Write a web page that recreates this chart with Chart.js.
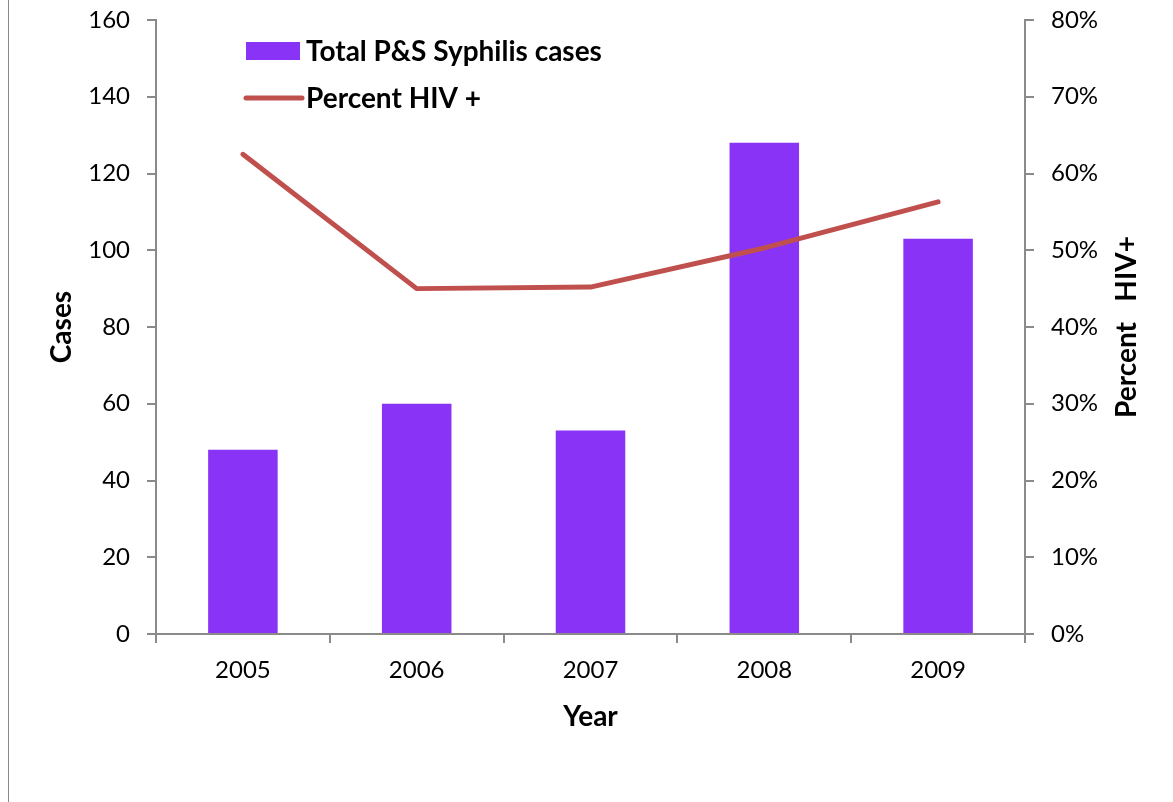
<!DOCTYPE html>
<html>
<head>
<meta charset="utf-8">
<script src="https://cdn.jsdelivr.net/npm/chart.js@4.4.1/dist/chart.umd.min.js"></script>
<style>
  html, body { margin: 0; padding: 0; background: #ffffff; }
  #wrap { position: relative; width: 1173px; height: 802px; }
  #frame { position: absolute; left: 8px; top: 0; width: 0; height: 802px; border-left: 1.5px solid #8a8a8a; }
  canvas { position: absolute; left: 0; top: 0; }
</style>
</head>
<body>
<div id="wrap">
  <div id="frame"></div>
  <canvas id="c" width="1173" height="802"></canvas>
</div>
<script>
// Annual primary & secondary syphilis cases and share that were HIV positive
const years = ['2005', '2006', '2007', '2008', '2009'];
const totalCases = [48, 60, 53, 128, 103];
const percentHIV = [62.5, 45.0, 45.2, 50.3, 56.3];
const casesTicks = [0, 20, 40, 60, 80, 100, 120, 140, 160];
const percentTicks = [0, 10, 20, 30, 40, 50, 60, 70, 80];

const FONT = 'Lato, "Open Sans", "DejaVu Sans", sans-serif';
const AXIS = '#8a8a8a';
const BAR = '#8833f5';
const LINE = '#c0504d';

// Legend drawn inside the plot area, upper left
const innerLegend = {
  id: 'innerLegend',
  afterDraw(chart) {
    const { ctx, chartArea } = chart;
    const x0 = chartArea.left;
    const y0 = chartArea.top;
    const barSet = chart.data.datasets.find(d => d.type === 'bar');
    const lineSet = chart.data.datasets.find(d => d.type === 'line');
    ctx.save();
    ctx.font = 'bold 28px ' + FONT;
    ctx.textBaseline = 'middle';
    ctx.textAlign = 'left';
    // bar entry
    ctx.fillStyle = BAR;
    ctx.fillRect(x0 + 90, y0 + 22, 54, 18);
    ctx.fillStyle = '#000000';
    ctx.fillText(barSet.label, x0 + 150, y0 + 32);
    // line entry
    ctx.strokeStyle = LINE;
    ctx.lineWidth = 5;
    ctx.lineCap = 'round';
    ctx.beginPath();
    ctx.moveTo(x0 + 90, y0 + 78);
    ctx.lineTo(x0 + 146, y0 + 78);
    ctx.stroke();
    ctx.fillText(lineSet.label, x0 + 150, y0 + 79);
    ctx.restore();
  }
};

// Right axis title, rotated to read bottom-to-top
const rightTitle = {
  id: 'rightTitle',
  afterDraw(chart) {
    const { ctx, chartArea } = chart;
    ctx.save();
    ctx.font = 'bold 28px ' + FONT;
    ctx.fillStyle = '#000000';
    ctx.textAlign = 'center';
    ctx.textBaseline = 'middle';
    ctx.translate(1127, (chartArea.top + chartArea.bottom) / 2);
    ctx.rotate(-Math.PI / 2);
    ctx.fillText('Percent   HIV+', 0, 0);
    ctx.restore();
  }
};

// Fixed axis box sizes so the plot area sits where intended
function fixVertical(width) {
  return function (scale) {
    scale.width = width;
    scale.paddingTop = 0;
    scale.paddingBottom = 0;
  };
}

new Chart(document.getElementById('c'), {
  data: {
    labels: years,
    datasets: [
      {
        type: 'line',
        label: 'Percent HIV +',
        data: percentHIV,
        yAxisID: 'y1',
        borderColor: LINE,
        borderWidth: 5,
        borderCapStyle: 'round',
        borderJoinStyle: 'round',
        pointRadius: 0,
        tension: 0,
        order: 0
      },
      {
        type: 'bar',
        label: 'Total P&S Syphilis cases',
        data: totalCases,
        yAxisID: 'y',
        backgroundColor: BAR,
        barPercentage: 0.4,
        categoryPercentage: 1.0,
        order: 1
      }
    ]
  },
  options: {
    responsive: false,
    animation: false,
    layout: { padding: { top: 20, left: 0, right: 0, bottom: 0 } },
    plugins: { legend: { display: false }, tooltip: { enabled: false } },
    scales: {
      x: {
        type: 'category',
        offset: true,
        grid: { display: true, drawOnChartArea: false, offset: true, tickLength: 9, color: AXIS, lineWidth: 2 },
        border: { display: true, color: AXIS, width: 2 },
        ticks: { color: '#000000', font: { family: FONT, size: 24, lineHeight: 1.2 }, padding: 13, maxRotation: 0 },
        title: { display: true, text: 'Year', color: '#000000', font: { family: FONT, size: 28, weight: 'bold', lineHeight: 1.2 }, padding: { top: 0, bottom: 68 } },
        afterFit(scale) { scale.height = 168; scale.paddingLeft = 0; scale.paddingRight = 0; }
      },
      y: {
        position: 'left',
        min: 0,
        max: casesTicks[casesTicks.length - 1],
        afterBuildTicks(scale) { scale.ticks = casesTicks.map(v => ({ value: v })); },
        grid: { display: true, drawOnChartArea: false, tickLength: 9, color: AXIS, lineWidth: 2 },
        border: { display: true, color: AXIS, width: 2 },
        ticks: { color: '#000000', font: { family: FONT, size: 24 }, padding: 17 },
        title: { display: true, text: 'Cases', color: '#000000', font: { family: FONT, size: 28, weight: 'bold', lineHeight: 1.2 }, padding: { top: 45, bottom: 0 } },
        afterFit: fixVertical(156)
      },
      y1: {
        position: 'right',
        min: 0,
        max: percentTicks[percentTicks.length - 1],
        afterBuildTicks(scale) { scale.ticks = percentTicks.map(v => ({ value: v })); },
        grid: { display: true, drawOnChartArea: false, tickLength: 9, color: AXIS, lineWidth: 2 },
        border: { display: true, color: AXIS, width: 2 },
        ticks: { color: '#000000', font: { family: FONT, size: 24 }, padding: 17, callback: v => v + '%' },
        afterFit: fixVertical(148)
      }
    }
  },
  plugins: [innerLegend, rightTitle]
});
</script>
</body>
</html>
